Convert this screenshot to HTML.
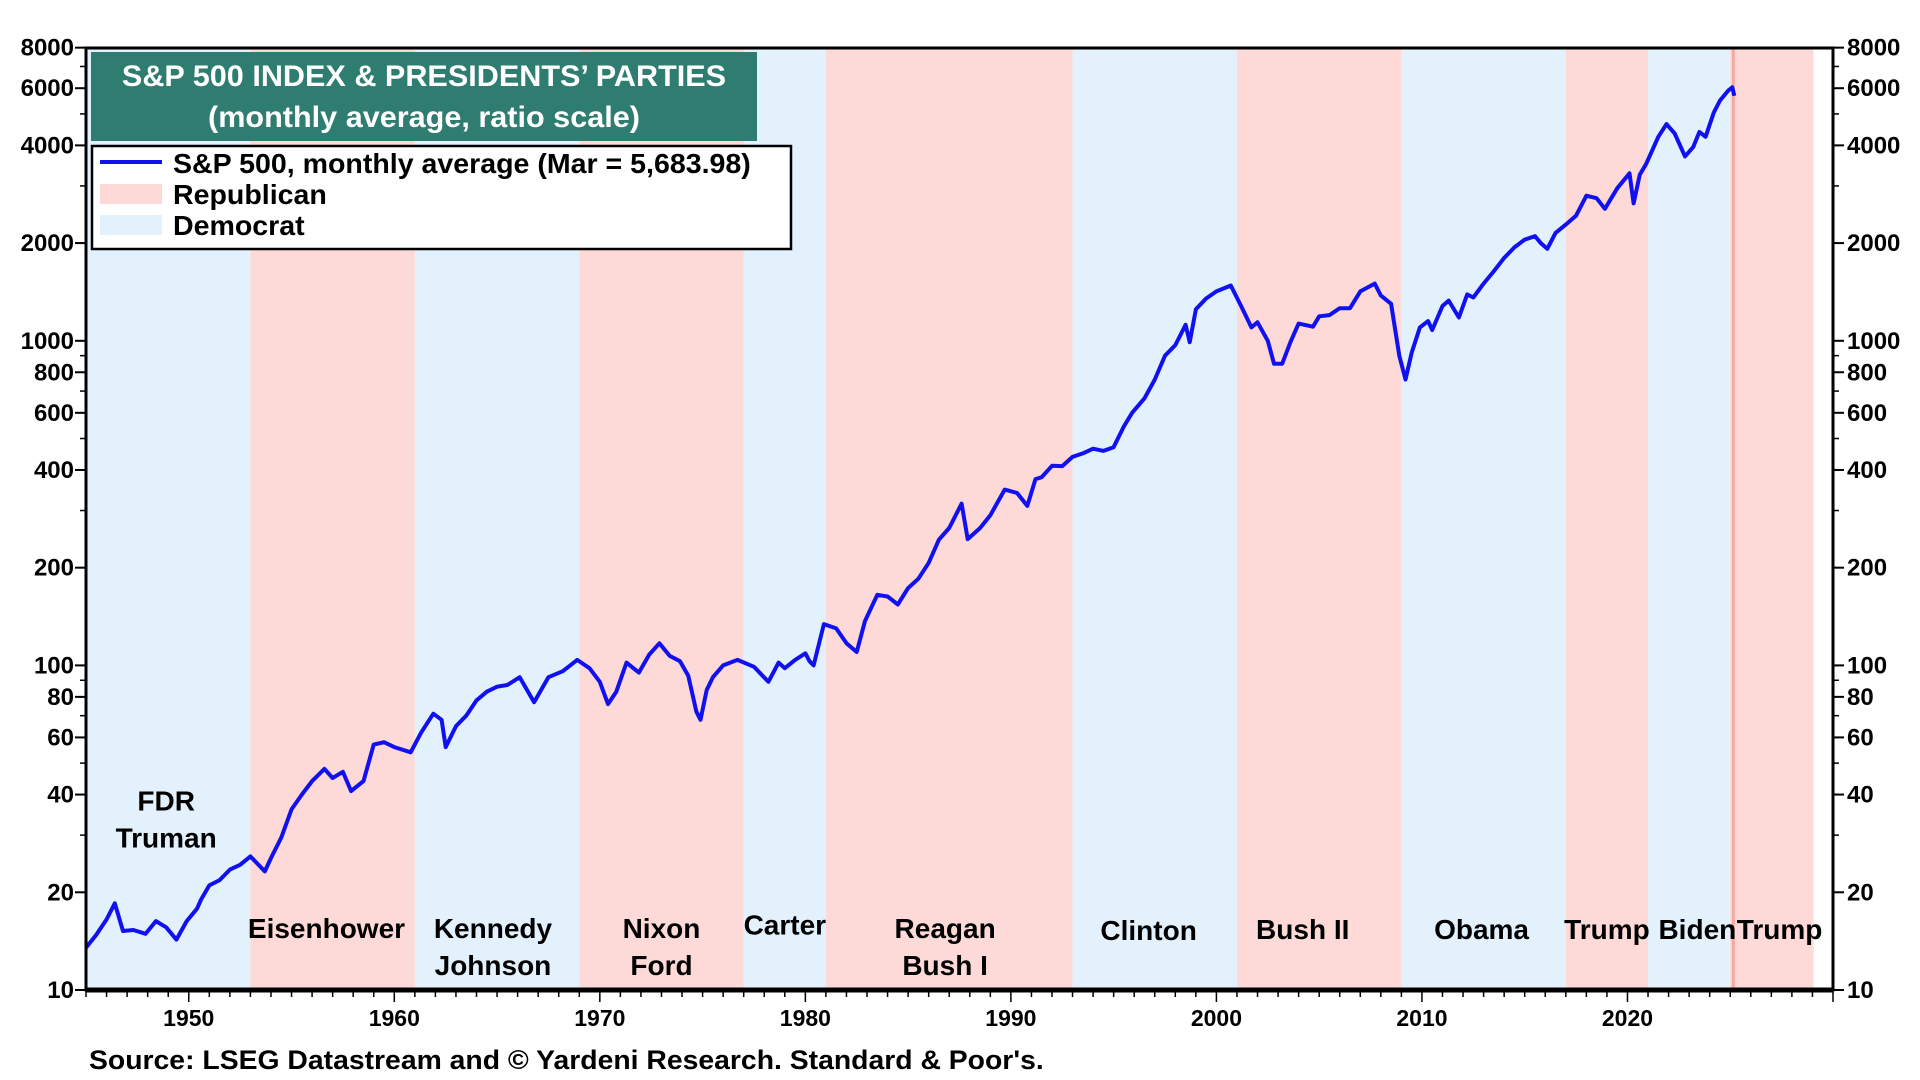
<!DOCTYPE html>
<html><head><meta charset="utf-8"><style>
html,body{margin:0;padding:0;background:#fff;}
svg{display:block;font-family:"Liberation Sans",Arial,sans-serif;font-weight:bold;}
</style></head><body>
<svg id="chart" width="1920" height="1080" viewBox="0 0 1920 1080" xmlns="http://www.w3.org/2000/svg">
<g id="bands"></g>
<g id="labels"></g>
<g id="series"></g>
<g id="axes"></g>
<rect x="91" y="52" width="666" height="89" fill="#2e7d70"/>
<text x="424" y="86" fill="#fff" font-size="30" text-anchor="middle" transform="translate(424,0) scale(1.02,1) translate(-424,0)">S&amp;P 500 INDEX &amp; PRESIDENTS’ PARTIES</text>
<text x="424" y="127" fill="#fff" font-size="30" text-anchor="middle" transform="translate(424,0) scale(1.02,1) translate(-424,0)">(monthly average, ratio scale)</text>
<g>
<rect x="92" y="146" width="699" height="103" fill="#fff" stroke="#000" stroke-width="2.5"/>
<line x1="100" y1="162" x2="162" y2="162" stroke="#1010f0" stroke-width="4"/>
<text x="173" y="173" font-size="28" transform="translate(173,0) scale(1.02,1) translate(-173,0)">S&amp;P 500, monthly average (Mar = 5,683.98)</text>
<rect x="100" y="184" width="62" height="20" fill="#fdd9d7"/>
<text x="173" y="204" font-size="28" transform="translate(173,0) scale(1.02,1) translate(-173,0)">Republican</text>
<rect x="100" y="215" width="62" height="20" fill="#e3f1fd"/>
<text x="173" y="235" font-size="28" transform="translate(173,0) scale(1.02,1) translate(-173,0)">Democrat</text>
</g>
<text x="89" y="1069" font-size="27" transform="translate(89,0) scale(1.05,1) translate(-89,0)">Source: LSEG Datastream and © Yardeni Research. Standard &amp; Poor's.</text>
</svg>
<script>
const bandStarts=[1945,1953,1961,1969,1977,1981,1993,2001,2009,2017,2021,2025];
const bandEnds=[1953,1961,1969,1977,1981,1993,2001,2009,2017,2021,2025,2029.05];
const bandParty=['D','R','D','R','D','R','D','R','D','R','D','R'];
const presNames=[['FDR','Truman'],['Eisenhower'],['Kennedy','Johnson'],['Nixon','Ford'],['Carter'],['Reagan','Bush I'],['Clinton'],['Bush II'],['Obama'],['Trump'],['Biden'],['Trump']];
const presLabelX=[1948.9,1956.7,1964.8,1973.0,1979.0,1986.8,1996.7,2004.2,2012.9,2019.0,2023.4,2027.4];
const presLabelY=[38.3,15.5,15.5,15.5,15.9,15.5,15.3,15.4,15.4,15.4,15.4,15.4];
const years=[1945.0,1945.5,1946.0,1946.4,1946.8,1947.3,1947.9,1948.4,1948.9,1949.4,1949.9,1950.4,1950.6,1951.0,1951.5,1952.0,1952.5,1953.0,1953.7,1954.0,1954.5,1955.0,1955.5,1956.0,1956.6,1957.0,1957.5,1957.9,1958.5,1959.0,1959.5,1960.0,1960.8,1961.3,1961.9,1962.3,1962.5,1963.0,1963.5,1964.0,1964.5,1965.0,1965.5,1966.1,1966.8,1967.5,1968.2,1968.9,1969.5,1970.0,1970.4,1970.8,1971.3,1971.9,1972.4,1972.9,1973.4,1973.9,1974.3,1974.7,1974.9,1975.2,1975.5,1976.0,1976.7,1977.5,1978.2,1978.7,1979.0,1979.5,1980.0,1980.2,1980.4,1980.9,1981.5,1982.0,1982.5,1982.9,1983.5,1984.0,1984.5,1985.0,1985.5,1986.0,1986.5,1987.0,1987.6,1987.9,1988.5,1989.0,1989.7,1990.3,1990.8,1991.2,1991.5,1992.0,1992.5,1993.0,1993.5,1994.0,1994.5,1995.0,1995.5,1995.9,1996.5,1997.0,1997.5,1998.0,1998.5,1998.7,1999.0,1999.5,2000.0,2000.7,2001.2,2001.7,2002.0,2002.5,2002.8,2003.2,2003.6,2004.0,2004.7,2005.0,2005.5,2006.0,2006.5,2007.0,2007.7,2008.0,2008.5,2008.9,2009.2,2009.5,2009.9,2010.3,2010.5,2011.0,2011.3,2011.8,2012.2,2012.5,2013.0,2013.5,2014.0,2014.5,2015.0,2015.5,2015.8,2016.1,2016.5,2017.0,2017.5,2018.0,2018.5,2018.9,2019.5,2020.1,2020.3,2020.6,2020.9,2021.5,2021.9,2022.3,2022.8,2023.2,2023.5,2023.8,2024.2,2024.5,2024.9,2025.1,2025.2];
const values=[13.5,14.8,16.5,18.5,15.2,15.3,14.9,16.3,15.6,14.3,16.3,17.8,19.0,21.0,21.8,23.5,24.3,25.8,23.2,25.5,29.5,36,40,44,48,45,47,41,44,57,58,56,54,62,71,68,56,65,70,78,83,86,87,92,77,92,96,104,98,89,76,83,102,95,108,117,107,103,93,72,68,84,92,100,104,99,89,102,98,104,109,103,100,134,130,117,110,137,165,163,154,173,185,207,244,265,315,245,265,290,348,340,310,375,380,412,411,439,450,465,458,470,545,600,665,760,900,970,1120,990,1250,1350,1420,1480,1280,1100,1140,1000,850,850,990,1130,1105,1190,1200,1260,1260,1420,1500,1380,1300,900,760,920,1100,1150,1080,1280,1330,1180,1390,1360,1500,1640,1800,1940,2050,2100,1995,1920,2150,2280,2430,2800,2750,2550,2950,3280,2650,3250,3500,4250,4650,4350,3700,3950,4400,4250,5050,5500,5900,6040,5684];
const yTicks=[10,20,40,60,80,100,200,400,600,800,1000,2000,4000,6000,8000];
const xTicks=[1950,1960,1970,1980,1990,2000,2010,2020];
const L=86,R=1833,T=48,B=990,X0=1945,X1=2030,DEC=324.6;
const NS='http://www.w3.org/2000/svg';
function xs(y){return L+(y-X0)*(R-L)/(X1-X0);}
function ys(v){return B-Math.log10(v/10)*DEC;}
function mk(tag,attrs,parent){const e=document.createElementNS(NS,tag);for(const k in attrs)e.setAttribute(k,attrs[k]);parent.appendChild(e);return e;}
const gb=document.getElementById('bands');
for(let i=0;i<bandStarts.length;i++){
  const r=mk('rect',{x:xs(bandStarts[i]),y:T,width:xs(bandEnds[i])-xs(bandStarts[i]),height:B-T,fill:bandParty[i]==='R'?'#fdd9d7':'#e3f1fd'},gb);
  
  
}
const ml=mk('line',{x1:xs(2025.15),x2:xs(2025.15),y1:T,y2:B,stroke:'#f7a8a0','stroke-width':3},gb);


const gl=document.getElementById('labels');
presNames.forEach((lines,i)=>{
  const cx=xs(presLabelX[i]);const cy=ys(presLabelY[i]);
  lines.forEach((s,j)=>{
    const t=mk('text',{x:0,y:0,'font-size':28,'text-anchor':'middle',transform:`translate(${cx},${cy+10+j*37}) scale(1.0,1)`},gl);
    t.textContent=s;
    
    
  });
});
const gs=document.getElementById('series');
const pts=years.map((y,i)=>xs(y).toFixed(1)+','+ys(values[i]).toFixed(1)).join(' ');
const pl=mk('polyline',{points:pts,fill:'none',stroke:'#1010f0','stroke-width':4,'stroke-linejoin':'round'},gs);


const ga=document.getElementById('axes');
const fr=mk('rect',{x:L,y:T,width:R-L,height:B-T,fill:'none',stroke:'#000','stroke-width':3},ga);


const bl=mk('line',{x1:L,x2:R,y1:B,y2:B,stroke:'#000','stroke-width':5},ga);


for(let d=10;d<10000;d*=10){for(let k=1;k<10;k++){const v=d*k;if(v>8000)break;const y=ys(v);
  mk('line',{x1:L-6,x2:L,y1:y,y2:y,stroke:'#000','stroke-width':1.5},ga);
  mk('line',{x1:R,x2:R+6,y1:y,y2:y,stroke:'#000','stroke-width':1.5},ga);}}
yTicks.forEach(v=>{const y=ys(v);
  mk('line',{x1:L-11,x2:L,y1:y,y2:y,stroke:'#000','stroke-width':2},ga);
  mk('line',{x1:R,x2:R+11,y1:y,y2:y,stroke:'#000','stroke-width':2},ga);
  const a=mk('text',{x:0,y:0,'font-size':24,'text-anchor':'end',transform:`translate(${L-12},${y+8})`},ga);a.textContent=v;
  
  
  const b=mk('text',{x:0,y:0,'font-size':24,'text-anchor':'start',transform:`translate(${R+14},${y+8})`},ga);b.textContent=v;
  
  
});
for(let yr=1945;yr<=2030;yr++){const x=xs(yr);mk('line',{x1:x,x2:x,y1:B,y2:B+(yr%10===0?12:7),stroke:'#000','stroke-width':1.5},ga);}
xTicks.forEach(yr=>{const t=mk('text',{x:0,y:0,'font-size':23,'text-anchor':'middle',transform:`translate(${xs(yr)},${1026})`},ga);t.textContent=yr;
  
  });
</script>
</body></html>
